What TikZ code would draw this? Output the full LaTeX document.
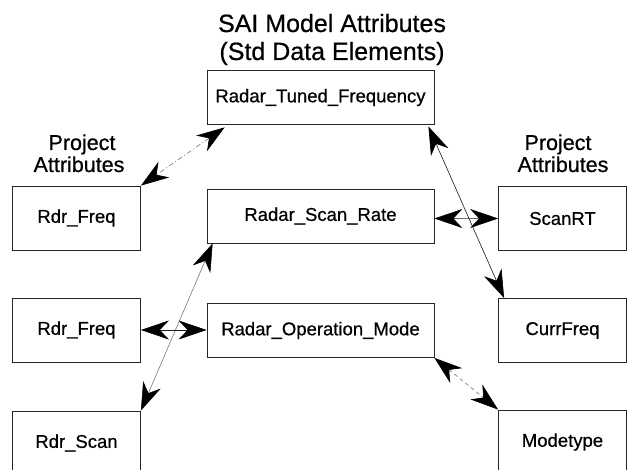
\documentclass[tikz,border=0pt]{standalone}
\usepackage{fontspec}
\setmainfont[FakeBold=0.6]{Liberation Sans}
\usetikzlibrary{arrows.meta,calc}
\begin{document}
\begin{tikzpicture}[x=1pt,y=-1pt,
  boxbase/.style={draw=black!85, line width=0.8pt, inner sep=0pt, font=\fontsize{18.5}{20}\selectfont},
  midbox/.style={boxbase, minimum width=227pt, minimum height=54pt},
  sidebox/.style={boxbase, minimum width=128pt, minimum height=64pt},
  titlefont/.style={inner sep=0pt, font=\fontsize{25}{28}\selectfont},
  plab/.style={inner sep=0pt, font=\fontsize{21.5}{22}\selectfont},
  >={Stealth[length=28pt,width=19pt,inset=9pt,color=black]},
  link/.style={<->, line width=0.6pt},
  dashdotgray/.style={draw=black!55, dash pattern=on 5pt off 2.5pt on 1pt off 2.5pt},
  dashgray/.style={draw=black!55, dash pattern=on 4pt off 3pt},
  solidgray/.style={draw=black!60, line width=0.5pt},
  solidblack/.style={draw=black!90, line width=0.6pt}
]
\fill[white] (0,0) rectangle (629,470);
\useasboundingbox (0,0) rectangle (629,470);
\clip (0,0) rectangle (629,470);

% titles
\node[titlefont, anchor=base] (t1) at (332,32) {SAI Model Attributes};
\node[titlefont, anchor=base] (t2) at (332,60) {(Std Data Elements)};

\node[plab, anchor=base] (pl1) at (82,150) {Project};
\node[plab, anchor=base] (pl2) at (79,172) {Attributes};
\node[plab, anchor=base] (pr1) at (558,150) {Project};
\node[plab, anchor=base] (pr2) at (563,172) {Attributes};

% middle column
\node[midbox] (rtf) at (320.5,97.5) {Radar\_Tuned\_Frequency};
\node[midbox] (rsr) at (320.5,216) {Radar\_Scan\_Rate};
\node[midbox] (rom) at (320.5,330.5) {Radar\_Operation\_Mode};

% left column
\node[sidebox] (rf1) at (76.5,218) {Rdr\_Freq};
\node[sidebox] (rf2) at (76.5,330) {Rdr\_Freq};
\node[sidebox] (rscan) at (76.5,443) {Rdr\_Scan};

% right column
\node[sidebox] (scanrt) at (562.5,218.5) {ScanRT};
\node[sidebox] (curr) at (562.5,330.5) {CurrFreq};
\node[sidebox] (mode) at (562.5,442) {Modetype};

% connectors
\draw[link, dashdotgray] ([xshift=18pt,yshift=-2.5pt]rtf.south west) -- (rf1.north east);
\draw[link, solidblack] ([xshift=-6pt,yshift=-1.5pt]rtf.south east) -- ([xshift=6pt]curr.north west);
\draw[link, solidgray] (scanrt.west -| rsr.east) -- (scanrt.west);
\draw[link, solidgray] ([xshift=6pt]rsr.south west) -- (rscan.north east);
\draw[link, solidblack] (rf2.east) -- (rf2.east -| rom.west);
\draw[link, dashgray] (rom.south east) -- (mode.north west);
\end{tikzpicture}
\end{document}
